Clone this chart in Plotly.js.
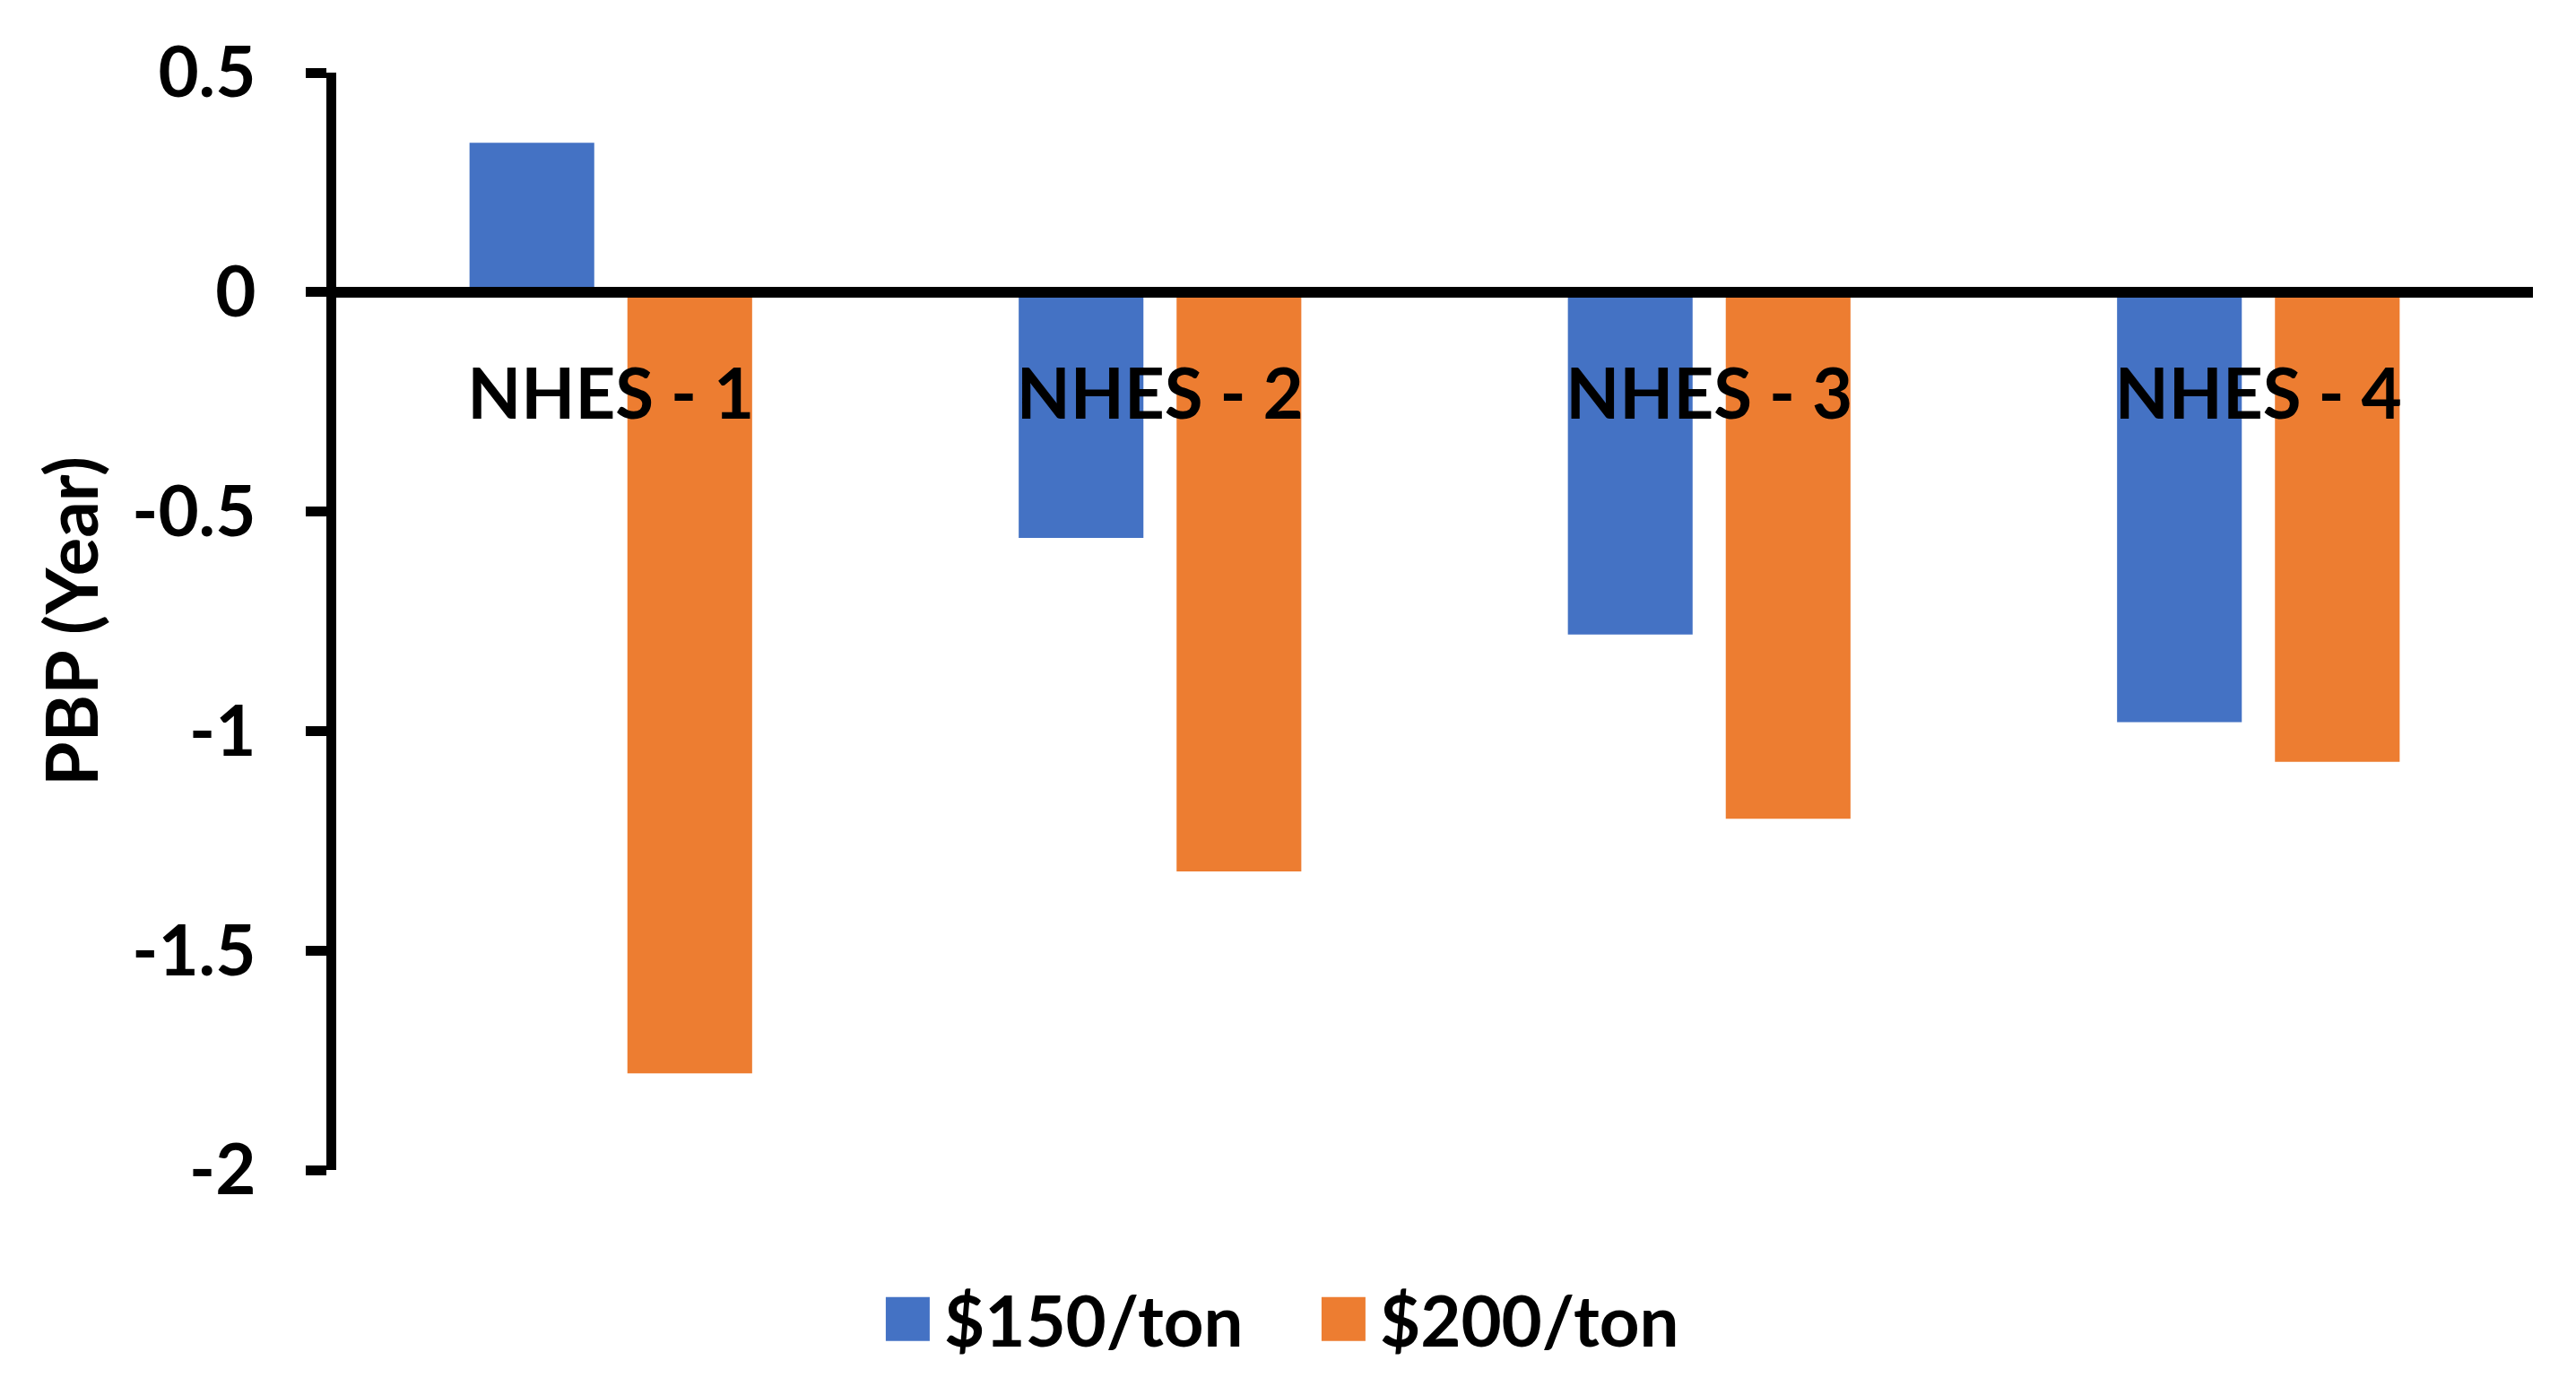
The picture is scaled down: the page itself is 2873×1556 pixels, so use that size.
<!DOCTYPE html>
<html>
<head>
<meta charset="utf-8">
<script src="https://cdn.plot.ly/plotly-3.0.1.min.js"></script>
<style>
  html, body { margin: 0; padding: 0; background: #ffffff; }
  #chart { width: 2873px; height: 1556px; }
</style>
</head>
<body>
<div id="chart"></div>
<script>
const categories = ["NHES - 1", "NHES - 2", "NHES - 3", "NHES - 4"];
const seriesNames = ["$150/ton", "$200/ton"];
const values150 = [0.34, -0.56, -0.78, -0.98];
const values200 = [-1.78, -1.32, -1.20, -1.07];
const yTickValues = [0.5, 0, -0.5, -1, -1.5, -2];
const yTickLabels = ["0.5", "0", "-0.5", "-1", "-1.5", "-2"];
const yTitle = "PBP (Year)";

const FONT = "Lato, 'Open Sans', sans-serif";

const traces = [
  {
    type: "bar",
    name: seriesNames[0],
    x: categories,
    y: values150,
    marker: { color: "#4472C4" }
  },
  {
    type: "bar",
    name: seriesNames[1],
    x: categories,
    y: values200,
    marker: { color: "#ED7D31" }
  }
];

const layout = {
  width: 2873,
  height: 1556,
  paper_bgcolor: "#ffffff",
  plot_bgcolor: "#ffffff",
  margin: { l: 375, r: 48, t: 81, b: 251, pad: 0 },
  barmode: "group",
  bargap: 0.425,
  bargroupgap: 0.21,
  font: { family: FONT, size: 78, color: "#000000", weight: 700 },
  showlegend: true,
  legend: {
    orientation: "h",
    x: 0.442,
    xanchor: "center",
    y: -0.136,
    yanchor: "middle",
    font: { family: FONT, size: 78, color: "#000000", weight: 700 },
    itemwidth: 71,
    entrywidth: 400,
    traceorder: "normal"
  },
  xaxis: {
    type: "category",
    anchor: "free",
    position: 0.8,
    showline: true,
    linecolor: "#000000",
    linewidth: 12,
    ticks: "",
    showgrid: false,
    zeroline: false,
    ticklabelstandoff: 42,
    tickfont: { family: FONT, size: 78, color: "#000000", weight: 700 },
    fixedrange: true
  },
  yaxis: {
    range: [-2, 0.5],
    tickvals: yTickValues,
    ticktext: yTickLabels,
    showline: true,
    linecolor: "#000000",
    linewidth: 11,
    ticks: "outside",
    ticklen: 23,
    tickwidth: 11,
    tickcolor: "#000000",
    showgrid: false,
    zeroline: false,
    ticklabelstandoff: 40,
    tickfont: { family: FONT, size: 78, color: "#000000", weight: 700 },
    title: {
      text: yTitle,
      font: { family: FONT, size: 80, color: "#000000", weight: 700 },
      standoff: 16
    },
    automargin: false,
    fixedrange: true
  }
};

Plotly.newPlot("chart", traces, layout, { displayModeBar: false, staticPlot: true }).then(function (gd) {
  const half = 24.5;
  document.querySelectorAll("#chart .legend .legendpoints path").forEach(function (p) {
    p.setAttribute("d", "M" + half + "," + half + "H-" + half + "V-" + half + "H" + half + "Z");
  });
});
</script>
</body>
</html>
